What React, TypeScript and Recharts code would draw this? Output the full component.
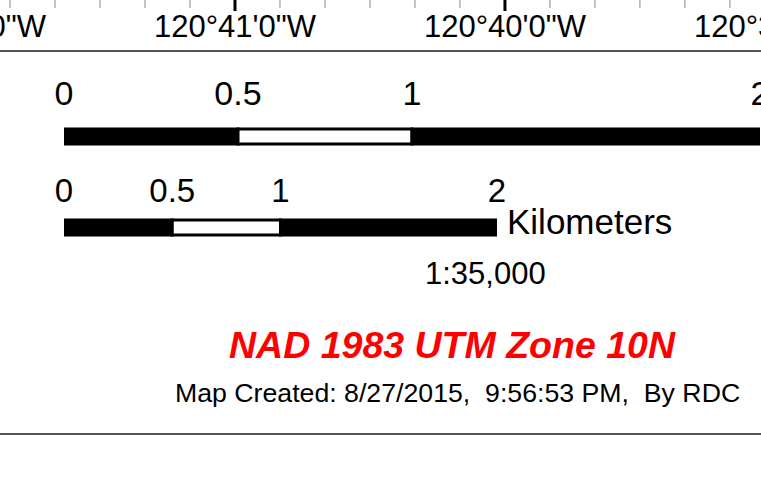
import React from "react";
import { BarChart, Bar, XAxis, YAxis, LineChart } from "recharts";

const FONT = "'Liberation Sans', Arial, Helvetica, sans-serif";

// graticule labels along the top edge (decimal degrees, west is negative)
const lonMajorTicks = [-120.7, -120 - 41 / 60, -120 - 40 / 60, -120.65];
const lonMajorLabels = ["120°42'0\"W", "120°41'0\"W", "120°40'0\"W", "120°39'0\"W"];
const lonDomain = [-120.69784, -120.65086];
const minorStepSeconds = 10;

// scale bars
const mileBreaks = [0, 0.5, 1, 2];
const mileLabels = ["0", "0.5", "1", "2"];
const kmBreaks = [0, 0.5, 1, 2];
const kmLabels = ["0", "0.5", "1", "2"];
const segmentFills = ["#000000", "#ffffff", "#000000"];

const unitLabel = "Kilometers";
const scaleText = "1:35,000";
const projectionText = "NAD 1983 UTM Zone 10N";
const creditText = "Map Created: 8/27/2015,  9:56:53 PM,  By RDC";

// every 10" between the full-minute lines
const lonTicks: number[] = [];
lonMajorTicks.forEach((m, i) => {
  lonTicks.push(m);
  if (i < lonMajorTicks.length - 1) {
    for (let s = 1; s < 60 / minorStepSeconds; s++) lonTicks.push(m + (s * minorStepSeconds) / 3600);
  }
});

// one row per bar, segments are the gaps between breaks
const toRow = (unit: string, breaks: number[]) => {
  const row: Record<string, any> = { unit };
  for (let i = 1; i < breaks.length; i++) row[`s${i - 1}`] = breaks[i] - breaks[i - 1];
  return row;
};
const mileData = [toRow("mi", mileBreaks)];
const kmData = [toRow("km", kmBreaks)];

function LonTick(props: any) {
  const { x, y, payload } = props;
  const i = lonMajorTicks.findIndex((v) => Math.abs(v - payload.value) < 1e-6);
  if (i < 0) {
    return <line x1={x} x2={x} y1={y} y2={y + 8} stroke="#8a8a8a" strokeWidth={1} />;
  }
  return (
    <g>
      <line x1={x} x2={x} y1={y} y2={y + 11} stroke="#000" strokeWidth={3} />
      <text x={x} y={y + 37} textAnchor="middle" fontSize={31} fontFamily={FONT} fill="#000">
        {lonMajorLabels[i]}
      </text>
    </g>
  );
}

const makeScaleTick = (breaks: number[], labels: string[], fontSize: number, lift: number) =>
  function ScaleTick(props: any) {
    const { x, y, payload } = props;
    const i = breaks.indexOf(payload.value);
    return (
      <text x={x} y={y - lift} textAnchor="middle" fontSize={fontSize} fontFamily={FONT} fill="#000">
        {i >= 0 ? labels[i] : ""}
      </text>
    );
  };

const MileTick = makeScaleTick(mileBreaks, mileLabels, 34, 21);
const KmTick = makeScaleTick(kmBreaks, kmLabels, 33, 15);

function ScaleBar({ data, breaks, tick, width, plotWidth, top }: any) {
  return (
    <div style={{ position: "absolute", left: 0, top }}>
      <BarChart
        width={width}
        height={80}
        data={data}
        layout="vertical"
        margin={{ top: 0, right: width - 64 - plotWidth, bottom: 0, left: 64 }}
      >
        <XAxis
          type="number"
          orientation="top"
          domain={[0, breaks[breaks.length - 1]]}
          ticks={breaks}
          interval={0}
          axisLine={false}
          tickLine={false}
          tickSize={0}
          tickMargin={0}
          height={60}
          tick={tick}
          allowDataOverflow
        />
        <YAxis type="category" dataKey="unit" hide width={0} />
        {segmentFills.map((fill, i) => (
          <Bar
            key={i}
            dataKey={`s${i}`}
            stackId="bar"
            fill={fill}
            stroke="#000"
            strokeWidth={3}
            barSize={15}
            isAnimationActive={false}
          />
        ))}
      </BarChart>
    </div>
  );
}

export default function App() {
  return (
    <div
      style={{
        position: "fixed",
        left: 0,
        top: 0,
        width: 761,
        height: 481,
        overflow: "hidden",
        background: "#fff",
        fontFamily: FONT,
      }}
    >
      <div style={{ position: "absolute", left: 0, top: -10 }}>
        <LineChart width={761} height={70} data={[]} margin={{ top: 0, right: 0, bottom: 0, left: 0 }}>
          <XAxis
            type="number"
            dataKey="lon"
            domain={lonDomain}
            ticks={lonTicks}
            interval={0}
            allowDataOverflow
            axisLine={false}
            tickLine={false}
            tickSize={0}
            tickMargin={0}
            height={60}
            tick={<LonTick />}
          />
        </LineChart>
      </div>
      <div style={{ position: "absolute", left: 0, top: 50, width: 761, height: 2, background: "#555" }} />

      <ScaleBar data={mileData} breaks={mileBreaks} tick={<MileTick />} width={800} plotWidth={696} top={66} />
      <ScaleBar data={kmData} breaks={kmBreaks} tick={<KmTick />} width={507} plotWidth={433} top={157} />

      <svg width={761} height={481} style={{ position: "absolute", left: 0, top: 0, pointerEvents: "none" }}>
        <text x={507} y={234} fontSize={35} fontFamily={FONT} fill="#000">
          {unitLabel}
        </text>
        <text x={425} y={284} fontSize={31} fontFamily={FONT} fill="#000">
          {scaleText}
        </text>
        <text
          x={452}
          y={358}
          textAnchor="middle"
          fontSize={37.5}
          fontWeight="bold"
          fontStyle="italic"
          fontFamily={FONT}
          fill="#ff0000"
        >
          {projectionText}
        </text>
        <text x={175} y={402} fontSize={26.7} fontFamily={FONT} fill="#000" style={{ whiteSpace: "pre" }}>
          {creditText}
        </text>
      </svg>

      <div style={{ position: "absolute", left: 0, top: 433, width: 761, height: 2, background: "#555" }} />
    </div>
  );
}
